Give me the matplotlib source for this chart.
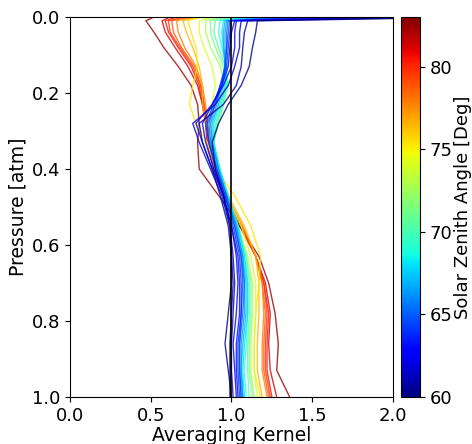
import numpy as np
import matplotlib
matplotlib.use("Agg")
from matplotlib import pyplot as plt, cm, colors

# pressure levels [atm]
pressure = [0.0, 0.01, 0.04, 0.08, 0.13, 0.18, 0.23, 0.28, 0.33, 0.40,
            0.47, 0.55, 0.63, 0.70, 0.78, 0.86, 0.93, 1.0]

# solar zenith angle of each kernel [deg]
sza = [60.2, 60.8, 61.5, 62.3, 63.0, 63.8, 64.5, 65.3, 66.2, 67.0,
       68.0, 69.0, 70.2, 71.3, 72.5, 74.0, 75.3, 76.5,
       77.8, 78.8, 79.7, 80.5, 81.3, 82.5]

# averaging kernel values, one row per sza
kernels = [
    [2.6, 1.16, 1.15, 1.13, 1.11, 1.06, 0.98, 0.92, 0.88, 0.90, 0.95, 0.99, 1.00, 1.00, 0.98, 0.96, 0.98, 1.00],
    [2.4, 1.10, 1.08, 1.07, 1.06, 1.03, 0.95, 0.80, 0.82, 0.88, 0.93, 0.98, 1.00, 1.01, 1.00, 0.99, 0.99, 0.99],
    [2.2, 1.06, 1.05, 1.05, 1.02, 0.98, 0.90, 0.76, 0.80, 0.87, 0.94, 0.99, 1.01, 1.02, 1.01, 1.00, 1.00, 1.01],
    [2.0, 1.03, 1.02, 1.02, 1.00, 0.95, 0.88, 0.78, 0.82, 0.88, 0.95, 1.00, 1.03, 1.04, 1.03, 1.01, 1.02, 1.03],
    [1.8, 1.02, 1.00, 0.99, 0.98, 0.94, 0.88, 0.82, 0.84, 0.89, 0.95, 1.00, 1.04, 1.05, 1.05, 1.03, 1.03, 1.04],
    [1.6, 1.00, 0.99, 0.98, 0.97, 0.93, 0.89, 0.84, 0.86, 0.90, 0.96, 1.01, 1.05, 1.06, 1.06, 1.04, 1.04, 1.05],
    [1.5, 0.99, 0.98, 0.97, 0.96, 0.93, 0.90, 0.85, 0.86, 0.91, 0.96, 1.02, 1.06, 1.07, 1.06, 1.05, 1.05, 1.06],
    [1.4, 0.98, 0.97, 0.97, 0.96, 0.94, 0.90, 0.86, 0.87, 0.91, 0.97, 1.02, 1.06, 1.08, 1.07, 1.05, 1.05, 1.06],
    [1.3, 0.97, 0.96, 0.96, 0.96, 0.94, 0.91, 0.87, 0.88, 0.92, 0.97, 1.03, 1.07, 1.08, 1.08, 1.06, 1.06, 1.07],
    [1.2, 0.96, 0.95, 0.95, 0.96, 0.95, 0.92, 0.88, 0.88, 0.92, 0.97, 1.03, 1.07, 1.09, 1.09, 1.07, 1.06, 1.07],
    [1.1, 0.95, 0.94, 0.95, 0.97, 0.96, 0.93, 0.89, 0.89, 0.93, 0.98, 1.04, 1.08, 1.10, 1.10, 1.08, 1.07, 1.08],
    [1.05, 0.93, 0.92, 0.94, 0.97, 0.97, 0.94, 0.90, 0.89, 0.92, 0.97, 1.04, 1.08, 1.10, 1.10, 1.09, 1.08, 1.09],
    [1.0, 0.90, 0.89, 0.92, 0.96, 0.98, 0.95, 0.91, 0.89, 0.92, 0.97, 1.04, 1.09, 1.11, 1.11, 1.10, 1.10, 1.11],
    [0.97, 0.87, 0.87, 0.90, 0.95, 0.97, 0.95, 0.92, 0.89, 0.91, 0.96, 1.04, 1.09, 1.12, 1.12, 1.11, 1.11, 1.13],
    [0.93, 0.84, 0.84, 0.87, 0.93, 0.96, 0.94, 0.91, 0.89, 0.91, 0.96, 1.04, 1.10, 1.13, 1.13, 1.12, 1.12, 1.14],
    [0.88, 0.80, 0.80, 0.83, 0.88, 0.90, 0.88, 0.87, 0.87, 0.90, 0.97, 1.06, 1.12, 1.15, 1.15, 1.14, 1.14, 1.16],
    [0.82, 0.73, 0.75, 0.78, 0.79, 0.76, 0.74, 0.78, 0.85, 0.90, 1.02, 1.12, 1.18, 1.17, 1.15, 1.14, 1.14, 1.18],
    [0.80, 0.70, 0.72, 0.76, 0.80, 0.82, 0.82, 0.84, 0.86, 0.91, 0.98, 1.08, 1.15, 1.17, 1.17, 1.16, 1.16, 1.19],
    [0.78, 0.66, 0.67, 0.71, 0.78, 0.82, 0.84, 0.85, 0.86, 0.90, 0.97, 1.07, 1.15, 1.19, 1.20, 1.19, 1.19, 1.22],
    [0.74, 0.63, 0.64, 0.69, 0.77, 0.81, 0.83, 0.85, 0.86, 0.90, 0.96, 1.06, 1.15, 1.19, 1.21, 1.20, 1.20, 1.23],
    [0.70, 0.61, 0.62, 0.68, 0.76, 0.81, 0.83, 0.85, 0.86, 0.90, 0.96, 1.06, 1.15, 1.20, 1.22, 1.21, 1.21, 1.24],
    [0.66, 0.59, 0.61, 0.67, 0.75, 0.80, 0.82, 0.84, 0.85, 0.89, 0.96, 1.06, 1.15, 1.20, 1.23, 1.22, 1.22, 1.25],
    [0.62, 0.57, 0.59, 0.65, 0.73, 0.79, 0.82, 0.84, 0.85, 0.89, 0.95, 1.05, 1.15, 1.21, 1.24, 1.23, 1.24, 1.28],
    [0.52, 0.47, 0.52, 0.58, 0.67, 0.75, 0.79, 0.80, 0.79, 0.80, 0.92, 1.05, 1.17, 1.23, 1.27, 1.29, 1.28, 1.36],
]

cbar_ticks = [60, 65, 70, 75, 80]

plt.rcParams["font.family"] = "DejaVu Sans"
fig = plt.figure(figsize=(4.72, 4.44), dpi=100)
ax = fig.add_axes([70 / 472, 47 / 444, 323 / 472, 380 / 444])

norm = colors.Normalize(vmin=60, vmax=83)
cmap = plt.get_cmap("jet")

# red first so the blue ones end up on top near the top edge
for angle, k in sorted(zip(sza, kernels), key=lambda t: -t[0]):
    ax.plot(k, pressure, color=cmap(norm(angle)), lw=1.0, alpha=0.8)

ax.axvline(1.0, color="black", lw=1.2, zorder=5)

ax.set_xlim(0, 2)
ax.set_ylim(1, 0)
ax.set_xticks([0, 0.5, 1.0, 1.5, 2.0])
ax.set_yticks([0, 0.2, 0.4, 0.6, 0.8, 1.0])
ax.tick_params(labelsize=13)
ax.set_xlabel("Averaging Kernel", fontsize=13.5, labelpad=1)
ax.set_ylabel("Pressure [atm]", fontsize=13.5, labelpad=3)

cax = fig.add_axes([401 / 472, 47 / 444, 19 / 472, 380 / 444])
sm = cm.ScalarMappable(norm=norm, cmap=cmap)
cb = fig.colorbar(sm, cax=cax, ticks=cbar_ticks)
cb.ax.tick_params(labelsize=13)
cb.set_label("Solar Zenith Angle [Deg]", fontsize=13, labelpad=1)

fig.savefig("out.png", dpi=100)
